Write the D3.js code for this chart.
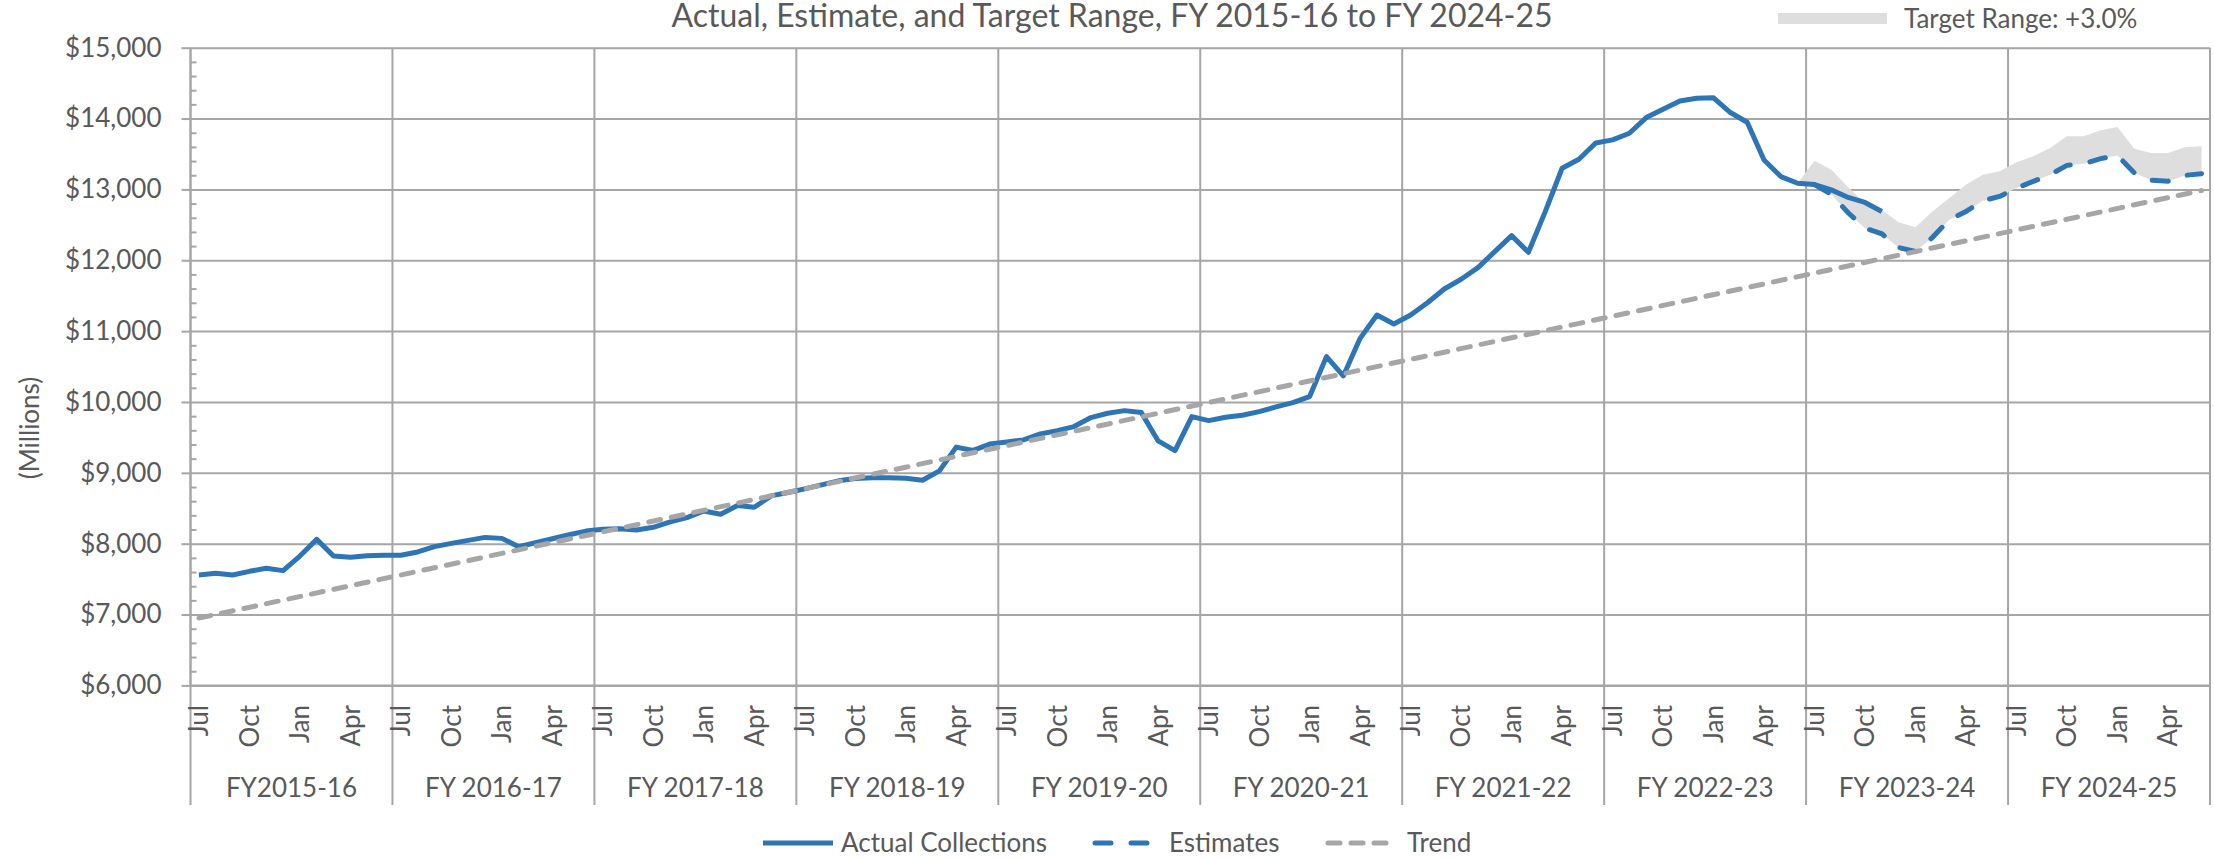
<!DOCTYPE html>
<html lang="en">
<head>
<meta charset="utf-8">
<title>Actual, Estimate, and Target Range</title>
<script src="https://cdn.jsdelivr.net/npm/d3@7"></script>
<style>
  body { margin: 0; background: #fff; }
  svg text { font-family: Lato, "Open Sans", sans-serif; fill: #595959; }
  .grid line { stroke: #a6a6a6; stroke-width: 2px; }
  .grid path { display: none; }
  .axis path, .axis line { stroke: #a6a6a6; stroke-width: 2px; }
  .actual { fill: none; stroke: #2e75b6; stroke-width: 5px; stroke-linejoin: round; }
  .estimate { fill: none; stroke: #2e75b6; stroke-width: 5px; stroke-dasharray: 16 20; stroke-linecap: round; }
  .trend { fill: none; stroke: #a6a6a6; stroke-width: 5px; stroke-dasharray: 12 11; stroke-linecap: round; }
  .band { fill: #dedede; }
</style>
</head>
<body>
<svg width="2214" height="858"></svg>
<script>
// categories
var fiscalYears = ["FY2015-16", "FY 2016-17", "FY 2017-18", "FY 2018-19", "FY 2019-20",
                   "FY 2020-21", "FY 2021-22", "FY 2022-23", "FY 2023-24", "FY 2024-25"];
var monthNames = ["Jul", "Aug", "Sep", "Oct", "Nov", "Dec", "Jan", "Feb", "Mar", "Apr", "May", "Jun"];
var yTicks = [6000, 7000, 8000, 9000, 10000, 11000, 12000, 13000, 14000, 15000];

// actual collections, Jul 2015 onward ($ millions)
var actual = [
  7559, 7582, 7559, 7610, 7653, 7620, 7826, 8061, 7826, 7808, 7831, 7836,
  7836, 7883, 7958, 8005, 8047, 8089, 8075, 7958, 8014, 8070, 8127, 8178,
  8205, 8212, 8193, 8231, 8307, 8368, 8462, 8415, 8538, 8514, 8675, 8722,
  8774, 8830, 8887, 8920, 8929, 8929, 8925, 8896, 9028, 9363, 9316, 9406,
  9434, 9465, 9549, 9596, 9653, 9780, 9841, 9878, 9850, 9450, 9314, 9794,
  9737, 9784, 9812, 9864, 9930, 9991, 10076, 10640, 10367, 10898, 11228, 11101,
  11228, 11400, 11595, 11732, 11896, 12122, 12348, 12113, 12687, 13299, 13426, 13656,
  13699, 13793, 14014, 14132, 14249, 14287, 14292, 14085, 13948, 13416, 13181, 13087,
  13068, 12993, 12887, 12816, 12689
];

// estimates, Jul 2023 onward
var estimateStart = 96;
var estimates = [
  13068, 12930, 12670, 12453, 12373, 12180, 12123, 12320, 12570, 12689, 12840, 12901,
  13019, 13113, 13208, 13340, 13363, 13434, 13480, 13235, 13130, 13115, 13198, 13222
];

// target range band, Jun 2023 onward
var bandStart = 95;
var bandLow = [
  13087,
  13068, 12930, 12670, 12453, 12373, 12180, 12123, 12320, 12570, 12689, 12840, 12901,
  13019, 13113, 13208, 13340, 13363, 13434, 13480, 13235, 13130, 13115, 13198, 13222
];
var bandHigh = [
  13087,
  13406, 13278, 13030, 12807, 12710, 12538, 12467, 12689, 12877, 13066, 13208, 13255,
  13382, 13467, 13585, 13750, 13750, 13835, 13882, 13575, 13514, 13514, 13594, 13608
];

// trend end points
var trendMonths = [0, 119];
var trendValues = [6950, 12985];

var svg = d3.select("svg");
var plotLeft = 190.5, plotRight = 2210, plotTop = 47.7, plotBottom = 685.4;

var months = d3.range(fiscalYears.length * 12);
var x = d3.scaleBand().domain(months).range([plotLeft, plotRight]);
var cx = function(i) { return x(i) + x.bandwidth() / 2; };
var y = d3.scaleLinear().domain([6000, 15000]).range([plotBottom, plotTop]);

// horizontal gridlines
svg.append("g")
    .attr("class", "grid")
    .attr("transform", "translate(" + plotLeft + ",0)")
    .call(d3.axisLeft(y).tickValues(yTicks).tickSize(-(plotRight - plotLeft)).tickFormat(""));

// vertical gridlines + separators under the axis
var bounds = d3.range(fiscalYears.length).map(function(f) { return x(f * 12); }).concat([plotRight]);
svg.append("g")
    .attr("class", "grid")
    .selectAll("line")
    .data(bounds)
    .enter().append("line")
    .attr("x1", function(d) { return d; })
    .attr("x2", function(d) { return d; })
    .attr("y1", plotTop)
    .attr("y2", 805);

// y axis
var yAxis = svg.append("g")
    .attr("class", "axis")
    .attr("transform", "translate(" + plotLeft + ",0)")
    .call(d3.axisLeft(y).tickValues(yTicks).tickFormat(d3.format("$,")).tickSize(9).tickPadding(20));
yAxis.select(".domain").attr("d", "M0," + plotTop + "V" + plotBottom);
yAxis.selectAll("text").style("font-size", "26px");

var minor = d3.range(6200, 15000, 200).filter(function(v) { return v % 1000 != 0; });
svg.append("g")
    .attr("class", "axis")
    .attr("transform", "translate(" + plotLeft + ",0)")
    .call(d3.axisRight(y).tickValues(minor).tickSize(6).tickFormat(""))
    .select(".domain").remove();

svg.append("text")
    .attr("transform", "translate(30,428) rotate(-90)")
    .attr("text-anchor", "middle")
    .attr("dy", "0.35em")
    .style("font-size", "26px")
    .text("(Millions)");

// x axis, month level
var xAxis = svg.append("g")
    .attr("class", "axis")
    .attr("transform", "translate(0," + plotBottom + ")")
    .call(d3.axisBottom(x)
        .tickValues(months.filter(function(i) { return i % 3 == 0; }))
        .tickFormat(function(i) { return monthNames[i % 12]; })
        .tickSize(0));
xAxis.select(".domain").attr("d", "M" + plotLeft + ",0H" + plotRight);
xAxis.selectAll("text")
    .attr("transform", "rotate(-90)")
    .attr("x", -19.6)
    .attr("y", 0)
    .attr("dy", "0.36em")
    .style("text-anchor", "end")
    .style("font-size", "26px");

// x axis, fiscal year level
svg.append("g")
    .selectAll("text")
    .data(fiscalYears)
    .enter().append("text")
    .attr("x", function(d, f) { return x(f * 12) + x.step() * 6; })
    .attr("y", 797)
    .attr("text-anchor", "middle")
    .style("font-size", "26px")
    .text(function(d) { return d; });

// target band
var area = d3.area()
    .x(function(d, k) { return cx(bandStart + k); })
    .y0(function(d, k) { return y(bandLow[k]); })
    .y1(function(d) { return y(d); });
svg.append("path").datum(bandHigh).attr("class", "band").attr("d", area);

var line = d3.line()
    .x(function(d) { return cx(d[0]); })
    .y(function(d) { return y(d[1]); });

svg.append("path")
    .datum(actual.map(function(v, i) { return [i, v]; }))
    .attr("class", "actual")
    .attr("d", line);

svg.append("path")
    .datum(estimates.map(function(v, k) { return [estimateStart + k, v]; }))
    .attr("class", "estimate")
    .attr("d", line);

svg.append("path")
    .datum(trendMonths.map(function(m, k) { return [m, trendValues[k]]; }))
    .attr("class", "trend")
    .attr("d", line);

// title
svg.append("text")
    .attr("x", 1112)
    .attr("y", 27)
    .attr("text-anchor", "middle")
    .style("font-size", "32px")
    .text("Actual, Estimate, and Target Range, FY 2015-16 to FY 2024-25");

// top-right legend
svg.append("rect")
    .attr("x", 1778).attr("y", 13).attr("width", 109).attr("height", 11)
    .attr("class", "band");
svg.append("text")
    .attr("x", 1904).attr("y", 28)
    .style("font-size", "26px")
    .text("Target Range: +3.0%");

// bottom legend
var legendItems = [
  { label: "Actual Collections", cls: "actual", x0: 763, x1: 833 },
  { label: "Estimates", cls: "estimate", x0: 1095, x1: 1151 },
  { label: "Trend", cls: "trend", x0: 1328, x1: 1389 }
];
var legend = svg.append("g").selectAll("g")
    .data(legendItems)
    .enter().append("g");
legend.append("path")
    .attr("class", function(d) { return d.cls; })
    .attr("d", function(d) { return "M" + d.x0 + ",843H" + d.x1; });
legend.append("text")
    .attr("x", function(d) { return d.x1 + (d.cls == "actual" ? 8 : 18); })
    .attr("y", 852)
    .style("font-size", "26px")
    .text(function(d) { return d.label; });
</script>
</body>
</html>
